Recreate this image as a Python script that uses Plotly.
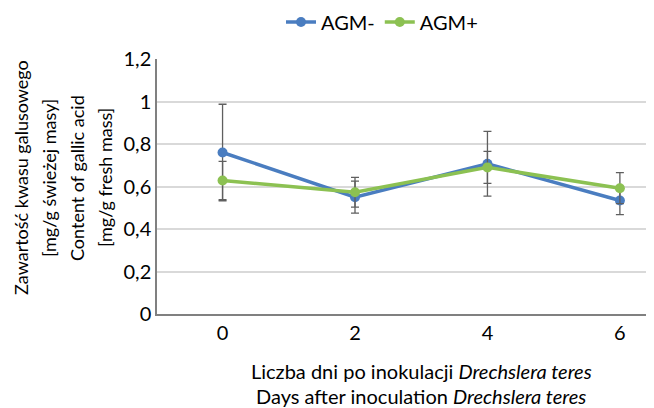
import plotly.graph_objects as go

days = [0, 2, 4, 6]
agm_minus = [0.76, 0.55, 0.707, 0.534]
agm_minus_err = [0.227, 0.075, 0.152, 0.066]
agm_plus = [0.628, 0.573, 0.69, 0.592]
agm_plus_err = [0.09, 0.07, 0.075, 0.073]
y_ticks = [0, 0.2, 0.4, 0.6, 0.8, 1.0, 1.2]
y_title_lines = ["Zawartość kwasu galusowego", "[mg/g świeżej masy]",
                 "Content of gallic acid", "[mg/g fresh mass]"]
x_title_lines = ["Liczba dni po inokulacji <i>Drechslera teres</i>",
                 "Days after inoculation <i>Drechslera teres</i>"]

FONT = "Lato"
BLUE = "#4a7dc0"
GREEN = "#8cc152"
ERR = "#5f5f5f"

fig = go.Figure()
fig.add_trace(go.Scatter(
    x=days, y=agm_minus, name="AGM-", mode="lines+markers",
    line=dict(color=BLUE, width=3.5), marker=dict(size=10, color=BLUE),
    error_y=dict(type="data", array=agm_minus_err, color=ERR, thickness=1.3, width=4),
))
fig.add_trace(go.Scatter(
    x=days, y=agm_plus, name="AGM+", mode="lines+markers",
    line=dict(color=GREEN, width=3.5), marker=dict(size=10, color=GREEN),
    error_y=dict(type="data", array=agm_plus_err, color=ERR, thickness=1.3, width=4),
))

OFF = 8  # page body margin
W, H = 654 - OFF, 408 - OFF
L, T = 157 - OFF, 59 - OFF
PLOT_RIGHT, PLOT_BOTTOM = 653 - OFF, 314 - OFF
R, B = W - PLOT_RIGHT, H - PLOT_BOTTOM
pw, ph = W - L - R, H - T - B

def px_to_paper_x(px):
    return (px - OFF - L) / pw

def px_to_paper_y(py):
    return (PLOT_BOTTOM - (py - OFF)) / ph

annotations = []
for txt, xp in zip(y_title_lines, [21, 49, 77, 105]):
    annotations.append(dict(
        text=txt, x=px_to_paper_x(xp), y=px_to_paper_y(178), xref="paper", yref="paper",
        textangle=-90, showarrow=False, xanchor="center", yanchor="middle",
        font=dict(family=FONT, size=18, color="#000000"),
    ))
for txt, yp in zip(x_title_lines, [371, 396]):
    annotations.append(dict(
        text=txt, x=px_to_paper_x(421), y=px_to_paper_y(yp), xref="paper", yref="paper",
        showarrow=False, xanchor="center", yanchor="middle",
        font=dict(family=FONT, size=20, color="#000000"),
    ))

fig.update_layout(
    width=W, height=H,
    margin=dict(l=L, r=R, t=T, b=B),
    paper_bgcolor="white", plot_bgcolor="white",
    separators=", ",
    font=dict(family=FONT, size=20, color="#000000"),
    showlegend=True,
    legend=dict(orientation="h", xref="container", yref="container",
                x=(382 - OFF) / W, y=1 - (22 - OFF) / H,
                xanchor="center", yanchor="middle", font=dict(size=20), itemwidth=30,
                tracegroupgap=0),
    annotations=annotations,
)
fig.update_xaxes(
    range=[-0.99, 6.5], tickvals=days, ticktext=[str(d) for d in days],
    showgrid=False, zeroline=False, showline=True, linecolor="#808080", linewidth=1.5,
    ticks="", tickfont=dict(size=20),
)
fig.update_yaxes(
    range=[0, 1.2], tickvals=y_ticks, showgrid=True, gridcolor="#d9d9d9", gridwidth=1.5,
    zeroline=False, showline=True, linecolor="#808080", linewidth=1.5,
    ticks="", tickfont=dict(size=20), ticklabelstandoff=0,
)
fig.write_html("out.html")
